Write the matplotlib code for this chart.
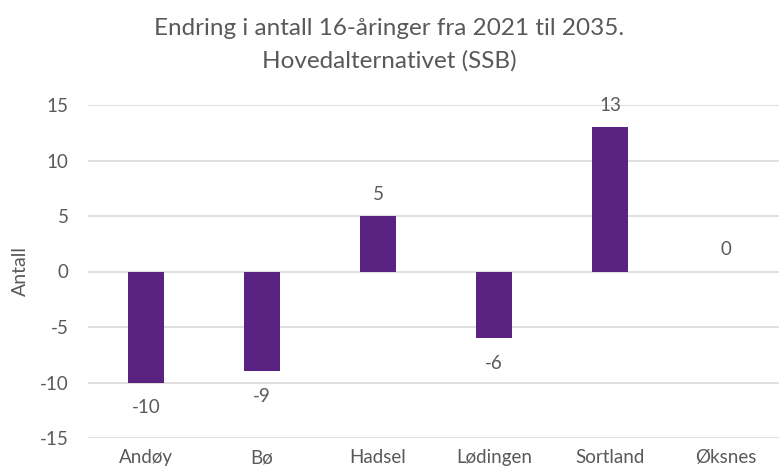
import matplotlib
matplotlib.use('Agg')
from matplotlib import pyplot as plt

kommuner = ['Andøy', 'Bø', 'Hadsel', 'Lødingen', 'Sortland', 'Øksnes']
endring = [-10, -9, 5, -6, 13, 0]
y_ticks = [-15, -10, -5, 0, 5, 10, 15]

TEXT = '#595959'
BAR = '#5B2381'

plt.rcParams['font.family'] = ['Lato', 'DejaVu Sans']
plt.rcParams['axes.unicode_minus'] = False

fig = plt.figure(figsize=(7.79, 4.76), dpi=100)
ax = fig.add_axes([88 / 779, 1 - 438 / 476, 1 - 88 / 779, (438 - 105) / 476])

x = list(range(len(kommuner)))
ax.bar(x, endring, width=0.316, color=BAR, zorder=3)

# verdier over/under søylene
for xi, v in zip(x, endring):
    off = -25 if v < 0 else 22
    ax.annotate(str(v), (xi, v), xytext=(0, off), textcoords='offset pixels',
                ha='center', va='center', fontsize=13.5, color=TEXT)

ax.set_ylim(-15, 15)
ax.set_xlim(-0.5, 5.457)
ax.set_yticks(y_ticks)
ax.set_xticks(x)
ax.set_xticklabels(kommuner)
ax.tick_params(axis='both', length=0, labelsize=13.5, labelcolor=TEXT)
ax.tick_params(axis='x', pad=8)
ax.tick_params(axis='y', pad=14)
ax.yaxis.grid(True, color='#d9d9d9', linewidth=1.2, zorder=0)
for s in ax.spines.values():
    s.set_visible(False)

ax.set_ylabel('Antall', fontsize=14, color=TEXT, va='center')
ax.yaxis.set_label_coords(-68 / 691, 0.5)

fig.suptitle('Endring i antall 16-åringer fra 2021 til 2035.\nHovedalternativet (SSB)',
             x=0.5, y=0.962, fontsize=17.5, color=TEXT, linespacing=1.65)

fig.savefig('out.png', dpi=100)
